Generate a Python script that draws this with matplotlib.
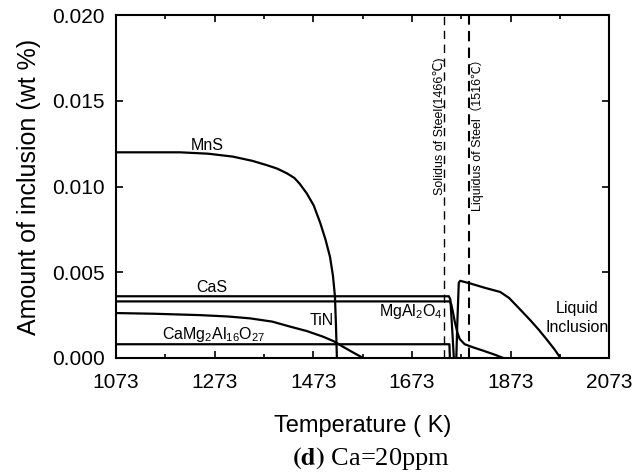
import numpy as np
import matplotlib
matplotlib.use('Agg')
import matplotlib.pyplot as plt
from matplotlib.ticker import FixedLocator, FormatStrFormatter, MultipleLocator

plt.rcParams['font.family'] = ['Liberation Sans', 'DejaVu Sans', 'Noto Sans CJK SC']
plt.rcParams['mathtext.fontset'] = 'custom'
plt.rcParams['mathtext.rm'] = 'Liberation Sans'
plt.rcParams['mathtext.it'] = 'Liberation Sans'

# phase amounts (wt %) vs temperature (K)
mns_T = [1073, 1203, 1260, 1310, 1350, 1379, 1400, 1420, 1435, 1446, 1460, 1474,
         1487, 1498, 1507, 1513, 1517, 1519, 1521]
mns_w = [0.0120, 0.0120, 0.01192, 0.01175, 0.01150, 0.01125, 0.01105, 0.01077,
         0.0105, 0.01015, 0.0096, 0.0089, 0.0079, 0.0069, 0.0059, 0.0048, 0.0036,
         0.0020, 0.0]

cas_T = [1073, 1748, 1751, 1755, 1758]
cas_w = [0.0036, 0.0036, 0.0034, 0.0015, 0.0]

spinel_T = [1073, 1750, 1753, 1756, 1760, 1765, 1770, 1780, 1795, 1820, 1840, 1858]
spinel_w = [0.0033, 0.0033, 0.0031, 0.0027, 0.0021, 0.0015, 0.0011, 0.0008,
            0.00064, 0.0004, 0.0002, 0.0]

tin_T = [1073, 1150, 1243, 1300, 1345, 1390, 1426, 1460, 1493, 1515, 1533, 1555, 1574]
tin_w = [0.00262, 0.00258, 0.0025, 0.00242, 0.00231, 0.00212, 0.00183, 0.00157,
         0.00124, 0.00097, 0.00066, 0.0003, 0.0]

cma_T = [1073, 1749, 1750]
cma_w = [0.0008, 0.0008, 0.0]

liq_T = [1763, 1765, 1768, 1771, 1791, 1820, 1852, 1870, 1890, 1913, 1930, 1947, 1962, 1974]
liq_w = [0.0, 0.0020, 0.0044, 0.0045, 0.00435, 0.0041, 0.00385, 0.0035, 0.0029,
         0.0022, 0.00165, 0.00105, 0.0005, 0.0]

solidus_T = 1739
liquidus_T = 1789

x_major = [1073, 1273, 1473, 1673, 1873, 2073]
x_minor = [1173, 1373, 1573, 1773, 1973]

fig = plt.figure(figsize=(6.4, 4.76), dpi=100)
ax = fig.add_axes([0.181, 0.248, 0.771, 0.72])

for T, w in [(mns_T, mns_w), (cas_T, cas_w), (spinel_T, spinel_w),
             (tin_T, tin_w), (cma_T, cma_w), (liq_T, liq_w)]:
    ax.plot(T, w, color='black', lw=1.6)

ax.axvline(solidus_T, color='black', lw=1.0, ls=(0, (6, 4)))
ax.axvline(liquidus_T, color='black', lw=1.5, ls=(0, (5, 3)))

ax.set_xlim(1073, 2073)
ax.set_ylim(0, 0.020)
ax.xaxis.set_major_locator(FixedLocator(x_major))
ax.xaxis.set_minor_locator(FixedLocator(x_minor))
ax.yaxis.set_major_locator(MultipleLocator(0.005))
ax.yaxis.set_major_formatter(FormatStrFormatter('%.3f'))
ax.tick_params(which='both', direction='in', top=True, right=True, labelsize=15, width=1.2)
ax.tick_params(which='major', length=5)
ax.tick_params(axis='x', which='major', pad=11)
ax.tick_params(axis='y', which='major', pad=8)
ax.tick_params(which='minor', length=3)
for s in ax.spines.values():
    s.set_linewidth(1.5)

ax.set_xlabel('Temperature ( K)', fontsize=17)
ax.set_ylabel('Amount of inclusion (wt %)', fontsize=18)
ax.xaxis.set_label_coords(0.5, -0.167)
ax.yaxis.set_label_coords(-0.152, 0.5)

ax.text(1258, 0.0124, 'MnS', fontsize=11.5, ha='center', va='center')
ax.text(1267, 0.0041, 'CaS', fontsize=11.5, ha='center', va='center')
ax.text(1491, 0.0022, 'TiN', fontsize=11.5, ha='center', va='center')
ax.text(1272, 0.00135, r'CaMg$_2$Al$_{16}$O$_{27}$', fontsize=11.5, ha='center', va='center')
ax.text(1671, 0.0027, r'MgAl$_2$O$_4$', fontsize=11.5, ha='center', va='center')
ax.text(2007, 0.00233, 'Liquid\nInclusion', fontsize=11.5, ha='center', va='center',
        linespacing=1.3)

ax.text(1728, 0.0135, 'Solidus of Steel(1466℃)', fontsize=9, rotation=90,
        ha='center', va='center')
ax.text(1806, 0.0132, 'Liquidus of Steel（1516℃）', fontsize=9, rotation=90,
        ha='center', va='center', family=['Liberation Sans', 'Noto Sans CJK SC'])

fig.text(0.58, 0.036, r'$\mathbf{(d)}$ Ca=20ppm', fontsize=19, ha='center', va='center',
         family='Liberation Serif', math_fontfamily='stix')

fig.savefig('out.png', dpi=100)
